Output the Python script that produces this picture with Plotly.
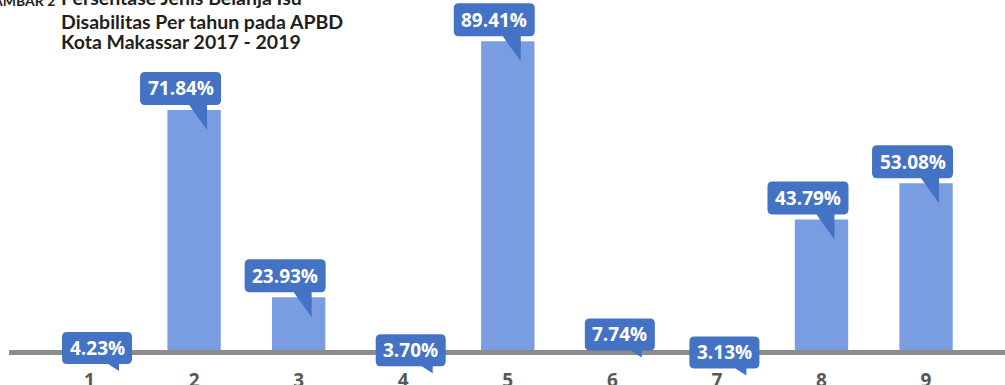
import plotly.graph_objects as go

# ---------------- data ----------------
categories = [1, 2, 3, 4, 5, 6, 7, 8, 9]
values = [4.23, 71.84, 23.93, 3.70, 89.41, 7.74, 3.13, 43.79, 53.08]
tick_labels = ["1", "2", "3", "4", "5", "6", "7", "8", "9"]
title_prefix = "GAMBAR 2"
title_lines = [
    "Persentase Jenis Belanja Isu",
    "Disabilitas Per tahun pada APBD",
    "Kota Makassar 2017 - 2019",
]

# ---------------- style / layout ----------------
W, H = 1005, 385
ML, MR, MT, MB = 9, 0, 0, 35
Y0, Y1 = 10.4, 100.0          # visible value range of the y axis
X0, X1 = 0.23, 9.755
BAR_COLOR = "#7A9CE0"
CALLOUT = "#4472C4"
AXIS_GRAY = "#8C8C8C"
LABEL_FONT = "Open Sans"
TITLE_FONT = "Lato"

labels = [f"{v:.2f}%" for v in values]


def to_paper(v):
    return (v - Y0) / (Y1 - Y0)


def callout_path(left, right, bottom, top, pl, pr, tipx, tipy, r=5):
    return (f"M{left + r},{top} L{right - r},{top} Q{right},{top} {right},{top - r} "
            f"L{right},{bottom + r} Q{right},{bottom} {right - r},{bottom} "
            f"L{pr},{bottom} L{tipx},{tipy} L{pl},{bottom} "
            f"L{left + r},{bottom} Q{left},{bottom} {left},{bottom + r} "
            f"L{left},{top - r} Q{left},{top} {left + r},{top} Z")


fig = go.Figure()
fig.add_trace(go.Bar(
    x=categories, y=values, width=0.51,
    marker=dict(color=BAR_COLOR, line=dict(width=0)),
    hoverinfo="skip",
))

shapes = []
annotations = []
for cat, v, lab in zip(categories, values, labels):
    w = 15 + 11 * len(lab)
    if v >= Y0:
        tipx, tipy = 13, -20
        right = tipx + 14
        bottom, top = 5, 38
        pl, pr = tipx - 18, tipx
    else:
        tipx, tipy = 29.5, 3
        right = tipx + 13
        bottom, top = 10, 42
        pl, pr = tipx - 11, tipx
    left = right - w
    yp = to_paper(v)
    shapes.append(dict(
        type="path", xref="x", yref="paper",
        xsizemode="pixel", ysizemode="pixel",
        xanchor=cat, yanchor=yp,
        path=callout_path(left, right, bottom, top, pl, pr, tipx, tipy),
        fillcolor=CALLOUT, line=dict(width=0), layer="above",
    ))
    annotations.append(dict(
        x=cat, y=yp, xref="x", yref="paper",
        xshift=(left + right) / 2, yshift=(top + bottom) / 2,
        xanchor="center", yanchor="middle", showarrow=False,
        text=lab, font=dict(family=LABEL_FONT, size=19, color="white", weight=700),
    ))

# title lines
title_shifts = [15.8, -7.8, -28.0]
for line, ys in zip(title_lines, title_shifts):
    annotations.append(dict(
        x=0, y=1, xref="paper", yref="paper", xanchor="left", yanchor="top",
        xshift=50, yshift=ys, showarrow=False, text=line,
        font=dict(family=TITLE_FONT, size=19.5, color="#231F20", weight=700),
    ))
annotations.append(dict(
    x=0, y=1, xref="paper", yref="paper", xanchor="right", yanchor="top",
    xshift=48, yshift=10.5, showarrow=False, text=title_prefix,
    font=dict(family=TITLE_FONT, size=14, color="#231F20", weight=700),
))

fig.update_layout(
    width=W, height=H,
    margin=dict(l=ML, r=MR, t=MT, b=MB, pad=0, autoexpand=False),
    paper_bgcolor="white", plot_bgcolor="white",
    showlegend=False,
    shapes=shapes, annotations=annotations,
    xaxis=dict(
        range=[X0, X1], tickmode="array", tickvals=categories, ticktext=tick_labels,
        showgrid=False, zeroline=False, ticks="", automargin=False,
        showline=True, linecolor=AXIS_GRAY, linewidth=5,
        tickfont=dict(family=LABEL_FONT, size=19, color="#595959", weight=700),
        ticklabelstandoff=9,
    ),
    yaxis=dict(range=[Y0, Y1], visible=False, showgrid=False, zeroline=False,
               automargin=False),
)

fig.write_html("out.html")
